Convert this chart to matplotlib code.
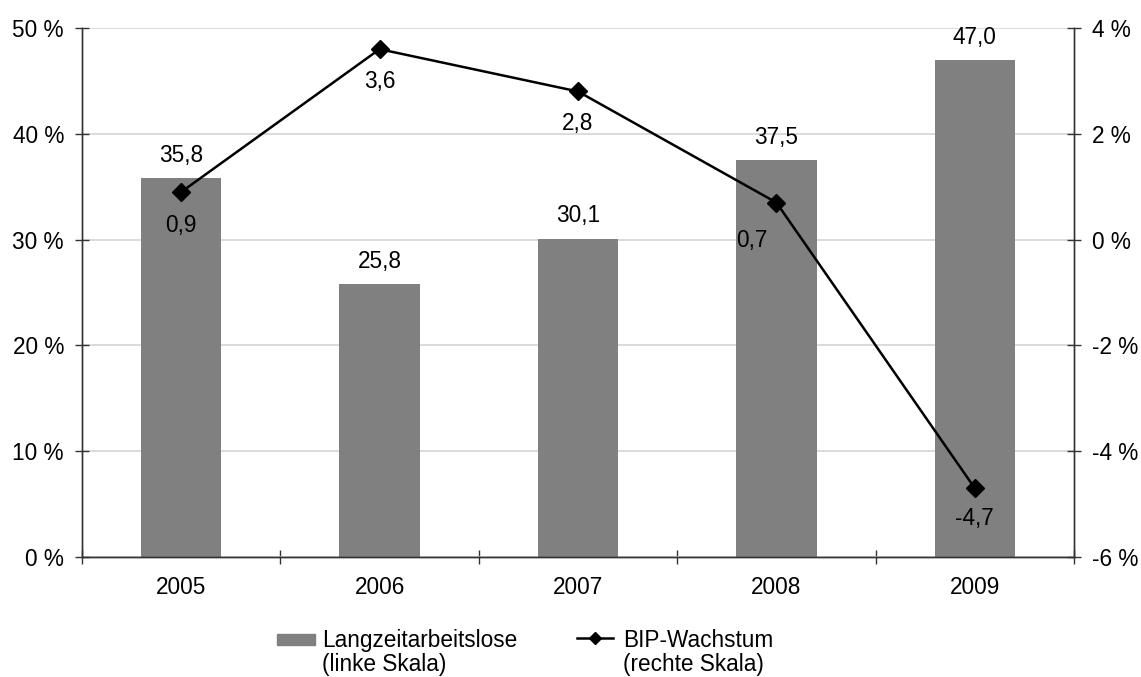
import matplotlib
matplotlib.use("Agg")
import matplotlib.pyplot as plt
from matplotlib.patches import Rectangle
from matplotlib.lines import Line2D

plt.rcParams['font.family'] = ['Liberation Sans', 'DejaVu Sans']

years = ['2005', '2006', '2007', '2008', '2009']
langzeit = [35.8, 25.8, 30.1, 37.5, 47.0]
bip = [0.9, 3.6, 2.8, 0.7, -4.7]
left_ticks = [0, 10, 20, 30, 40, 50]
right_ticks = [-6, -4, -2, 0, 2, 4]

fs = 16.3
W, H = 1141, 677
fig = plt.figure(figsize=(W / 100, H / 100), dpi=100)
ax = fig.add_axes([82 / W, 1 - 557 / H, (1074 - 82) / W, (557 - 28) / H])
ax2 = ax.twinx()

x = list(range(len(years)))

# bars (left scale)
ax.bar(x, langzeit, width=0.405, color='#808080', zorder=2)
ax.set_xlim(-0.5, len(years) - 0.5)
ax.set_ylim(0, 50)
ax.set_yticks(left_ticks)
ax.set_yticklabels(['%d %%' % t for t in left_ticks], fontsize=fs)
ax.yaxis.grid(True, color='#d4d4d4', linewidth=1.2, zorder=0)
ax.set_axisbelow(True)
ax.set_xticks(x)
ax.set_xticklabels(years, fontsize=fs)
ax.set_xticks([i - 0.5 for i in range(len(years) + 1)], minor=True)
ax.tick_params(axis='x', which='major', length=0, pad=14)
ax.tick_params(axis='x', which='minor', length=10, direction='inout', width=1, color='#333333')
ax.tick_params(axis='y', length=10, direction='inout', width=1, color='#333333', pad=8)
for v, val in zip(x, langzeit):
    ax.annotate(('%.1f' % val).replace('.', ','), (v, val), xytext=(0, 8),
                textcoords='offset points', ha='center', va='bottom', fontsize=fs)

# line (right scale)
ax2.plot(x, bip, color='black', linewidth=1.8, marker='D', markersize=9.5, zorder=5)
ax2.set_ylim(-6, 4)
ax2.set_yticks(right_ticks)
ax2.set_yticklabels(['%d %%' % t for t in right_ticks], fontsize=fs)
ax2.tick_params(axis='y', length=10, direction='inout', width=1, color='#333333', pad=8)
offsets = [(0, -24), (0, -23), (0, -23), (-18, -27), (0, -22)]
for v, val, off in zip(x, bip, offsets):
    ax2.annotate(('%.1f' % val).replace('.', ','), (v, val), xytext=off,
                 textcoords='offset points', ha='center', va='center', fontsize=fs)

for a in (ax, ax2):
    a.spines['top'].set_visible(False)
    for side in ('left', 'right', 'bottom'):
        a.spines[side].set_color('#333333')
        a.spines[side].set_linewidth(1)

# legend drawn by hand to keep the handles on the first text line
fig.patches.append(Rectangle((277 / W, 1 - 645 / H), 38 / W, 11 / H,
                             transform=fig.transFigure, color='#808080'))
fig.lines.append(Line2D([577 / W, 613 / W], [1 - 638 / H, 1 - 638 / H],
                        transform=fig.transFigure, color='black', linewidth=1.8))
fig.lines.append(Line2D([595 / W], [1 - 638 / H], transform=fig.transFigure,
                        color='black', marker='D', markersize=6.5))
fig.text(322 / W, 1 - 629 / H, 'Langzeitarbeitslose\n(linke Skala)',
         ha='left', va='top', fontsize=fs, linespacing=1.05)
fig.text(623 / W, 1 - 629 / H, 'BIP-Wachstum\n(rechte Skala)',
         ha='left', va='top', fontsize=fs, linespacing=1.05)

fig.savefig('out.png', dpi=100)
